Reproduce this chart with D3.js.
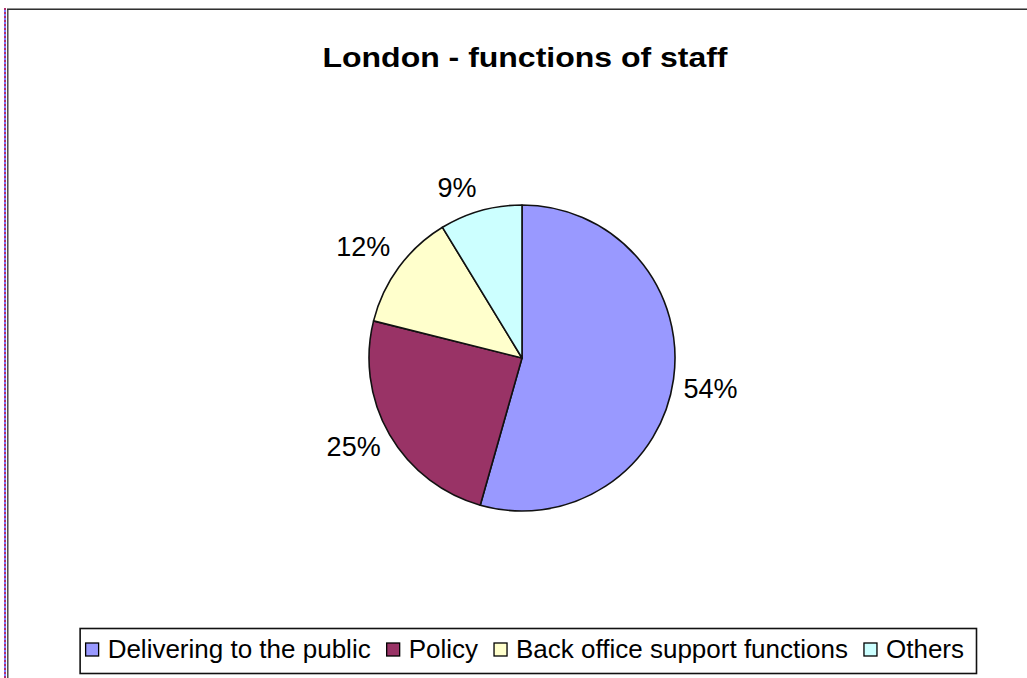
<!DOCTYPE html>
<html><head><meta charset="utf-8">
<script src="https://cdn.jsdelivr.net/npm/d3@7"></script>
<style>html,body{margin:0;padding:0;background:#fff;}svg{display:block;}</style>
</head><body>
<script>
const categories = ["Delivering to the public", "Policy", "Back office support functions", "Others"];
const values = [54.4, 24.5, 12.4, 8.7];
const labels = ["54%", "25%", "12%", "9%"];
const colors = ["#9999FF", "#993366", "#FFFFCC", "#CCFFFF"];
const title = "London - functions of staff";

const W = 1027, H = 678;
const FONT = "Liberation Sans, Arial, sans-serif";
const svg = d3.select("body").append("svg").attr("width", W).attr("height", H);
svg.append("rect").attr("width", W).attr("height", H).attr("fill", "#fff");

// frame
svg.append("line").attr("x1", 5).attr("x2", 5).attr("y1", 8).attr("y2", H)
  .attr("stroke", "#7f7fff").attr("stroke-width", 2);
svg.append("line").attr("x1", 5).attr("x2", 5).attr("y1", 8).attr("y2", H)
  .attr("stroke", "#b03070").attr("stroke-width", 2).attr("stroke-dasharray", "2,2");
svg.append("line").attr("x1", 7.5).attr("x2", 7.5).attr("y1", 8).attr("y2", H).attr("stroke", "#505050").attr("stroke-width", 1);
svg.append("line").attr("x1", 8.5).attr("x2", 8.5).attr("y1", 9).attr("y2", H).attr("stroke", "#a0a0a0").attr("stroke-width", 1);
svg.append("line").attr("x1", 7).attr("x2", W).attr("y1", 8.5).attr("y2", 8.5).attr("stroke", "#909090").attr("stroke-width", 1);
svg.append("line").attr("x1", 7).attr("x2", W).attr("y1", 9.5).attr("y2", 9.5).attr("stroke", "#303030").attr("stroke-width", 1);

// title
svg.append("text").attr("x", 525).attr("y", 67).attr("text-anchor", "middle")
  .attr("font-family", FONT).attr("font-weight", "bold")
  .attr("font-size", 28).attr("textLength", 405).attr("lengthAdjust", "spacingAndGlyphs")
  .attr("fill", "#000").text(title);

// pie
const cx = 522, cy = 358, r = 153;
const pie = d3.pie().sort(null).value(d => d)(values);
const arc = d3.arc().innerRadius(0).outerRadius(r);
const g = svg.append("g").attr("transform", `translate(${cx},${cy})`);
g.selectAll("path").data(pie).join("path")
  .attr("d", arc).attr("fill", (d, i) => colors[i])
  .attr("stroke", "#111").attr("stroke-width", 1.6).attr("stroke-linejoin", "round");

// data labels: label box placed just outside the slice edge
const LFS = 27, off = 8, halfH = 12, lift = 4;
const lab = g.selectAll("text").data(pie).join("text")
  .attr("text-anchor", "middle")
  .attr("font-family", FONT).attr("font-size", LFS).attr("fill", "#000")
  .text((d, i) => labels[i]);
lab.each(function (d) {
  const w = this.getComputedTextLength();
  const a = (d.startAngle + d.endAngle) / 2;
  const ux = Math.sin(a), uy = -Math.cos(a);
  const px = (r + off) * ux + Math.sign(ux) * (w / 2 + 2);
  const py = (r + off) * uy + Math.sign(uy) * halfH - lift;
  d3.select(this).attr("x", px).attr("y", py + 0.36 * LFS);
});

// legend
const lRight = 976, ly = 628, lh = 45;
const legBox = svg.append("rect");
const leg = svg.append("g");
const items = leg.selectAll("g").data(categories).join("g");
items.append("rect").attr("width", 13).attr("height", 13).attr("y", -15)
  .attr("fill", (d, i) => colors[i]).attr("stroke", "#000").attr("stroke-width", 1.3);
items.append("text").attr("x", 22).attr("y", 0)
  .attr("font-family", FONT).attr("font-size", 26).attr("fill", "#000")
  .text(d => d);
const widths = [];
items.each(function () { widths.push(d3.select(this).select("text").node().getComputedTextLength()); });
const gap = 16, padL = 6, padR = 12;
const total = padL + d3.sum(widths, w => 22 + w) + gap * (widths.length - 1) + padR;
const lx = lRight - total;
let x = lx + padL;
items.each(function (d, i) {
  d3.select(this).attr("transform", `translate(${x},${ly + 30})`);
  x += 22 + widths[i] + gap;
});
legBox.attr("x", lx + 0.5).attr("y", ly + 0.5).attr("width", total).attr("height", lh)
  .attr("fill", "#fff").attr("stroke", "#111").attr("stroke-width", 1.6);
</script>
</body></html>
